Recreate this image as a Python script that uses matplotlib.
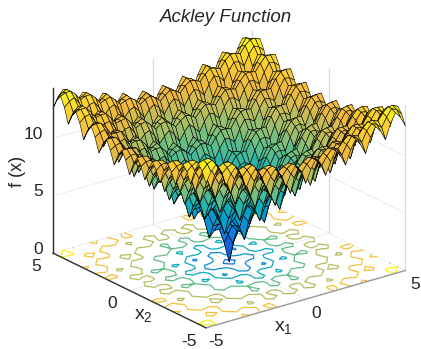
import numpy as np
import matplotlib
matplotlib.use('Agg')
import matplotlib.pyplot as plt
from matplotlib.colors import LinearSegmentedColormap, Normalize

plt.rcParams['font.family'] = ['Liberation Sans', 'DejaVu Sans']
plt.rcParams['mathtext.fontset'] = 'custom'
plt.rcParams['mathtext.rm'] = 'Liberation Sans'
plt.rcParams['mathtext.it'] = 'Liberation Sans'
plt.rcParams['mathtext.default'] = 'regular'

# heights estimated on a 0.25 grid, only one eighth of the square (it looks symmetric)
# rows go x = 0, 0.25, ... and each row starts on the diagonal
heights = [
    [0.0, 1.8, 3.1, 3.1, 2.6, 4.3, 5.5, 5.5, 4.9, 6.5, 7.7, 7.5, 6.9, 8.4, 9.5, 9.3, 8.6, 10.1, 11.1, 10.9, 10.1],
    [2.7, 3.6, 3.8, 3.8, 5.0, 6.0, 6.1, 6.0, 7.2, 8.1, 8.2, 8.0, 9.1, 9.9, 10.0, 9.7, 10.8, 11.5, 11.5, 11.2],
    [4.2, 4.5, 4.7, 5.6, 6.4, 6.7, 6.8, 7.7, 8.4, 8.6, 8.7, 9.6, 10.2, 10.4, 10.4, 11.2, 11.8, 11.9, 11.9],
    [4.5, 4.3, 5.4, 6.3, 6.4, 6.3, 7.4, 8.3, 8.4, 8.2, 9.2, 10.1, 10.1, 9.8, 10.9, 11.6, 11.6, 11.3],
    [3.6, 5.1, 6.2, 6.0, 5.4, 7.0, 8.0, 7.8, 7.2, 8.7, 9.8, 9.5, 8.8, 10.3, 11.3, 11.0, 10.3],
    [6.1, 6.9, 7.0, 6.7, 7.8, 8.6, 8.7, 8.4, 9.5, 10.3, 10.3, 10.0, 11.0, 11.8, 11.7, 11.4],
    [7.5, 7.7, 7.7, 8.5, 9.1, 9.3, 9.3, 10.1, 10.7, 10.8, 10.8, 11.5, 12.1, 12.2, 12.2],
    [7.6, 7.3, 8.4, 9.1, 9.1, 8.8, 9.9, 10.6, 10.6, 10.3, 11.3, 12.0, 12.0, 11.6],
    [6.6, 8.0, 9.0, 8.7, 8.0, 9.4, 10.4, 10.1, 9.4, 10.8, 11.8, 11.4, 10.7],
    [9.0, 9.7, 9.6, 9.3, 10.3, 11.0, 10.9, 10.6, 11.6, 12.3, 12.2, 11.9],
    [10.2, 10.3, 10.2, 10.9, 11.5, 11.5, 11.5, 12.2, 12.7, 12.8, 12.7],
    [10.2, 9.8, 10.8, 11.4, 11.4, 11.0, 12.0, 12.6, 12.5, 12.1],
    [9.0, 10.4, 11.3, 10.9, 10.1, 11.5, 12.4, 12.0, 11.2],
    [11.3, 11.9, 11.8, 11.4, 12.3, 13.0, 12.9, 12.5],
    [12.4, 12.4, 12.3, 12.9, 13.4, 13.4, 13.3],
    [12.3, 11.9, 12.8, 13.4, 13.2, 12.8],
    [11.0, 12.3, 13.2, 12.8, 11.9],
    [13.2, 13.8, 13.6, 13.2],
    [14.2, 14.2, 14.0],
    [14.0, 13.5],
    [12.6],
]
contour_levels = [2, 4, 6, 8, 10, 12, 14]
xticks = [-5, 0, 5]
yticks = [-5, 0, 5]
zticks = [0, 5, 10]
parula = ['#352a87', '#125cde', '#1180e0', '#0895d1', '#06a9c1', '#38b99e',
          '#7cbf7b', '#b9bd5d', '#f0b83e', '#fbd32f', '#f9fb15']

# unfold the triangle into the whole square
n = len(heights)
quad = np.zeros((n, n))
for i, row in enumerate(heights):
    for j, v in enumerate(row):
        quad[i, i + j] = v
        quad[i + j, i] = v
Z = np.vstack([quad[:0:-1], quad])
Z = np.hstack([Z[:, :0:-1], Z])
grid = np.linspace(-5, 5, Z.shape[0])
X, Y = np.meshgrid(grid, grid)

cmap = LinearSegmentedColormap.from_list('parula', parula)
ztop = 14.4
norm = Normalize(0, ztop)

W, H = 421, 349
size = 386
fig = plt.figure(figsize=(W / 100, H / 100), dpi=100)
ax = fig.add_axes([(224 - size / 2) / W, (164.5 - size / 2) / H, size / W, size / H],
                  projection='3d', computed_zorder=False)
ax.set_proj_type('ortho')
ax.view_init(elev=22, azim=-127.5)
ax.set_box_aspect((250, 250, 177))
ax.set_xlim(-5, 5, view_margin=0)
ax.set_ylim(-5, 5, view_margin=0)
ax.set_zlim(0, ztop, view_margin=0)
ax.set_axis_off()
ax.patch.set_alpha(0)

grid_c = '#ececec'
def gridline(xs, ys, zs, c=grid_c, lw=0.7, zo=1):
    ax.plot(xs, ys, zs, color=c, lw=lw, zorder=zo, clip_on=False)

# floor and wall grid
for t in xticks:
    gridline([t, t], [-5, 5], [0, 0])
    gridline([t, t], [5, 5], [0, ztop], c='#dcdcdc', lw=0.9)
for t in yticks:
    gridline([-5, 5], [t, t], [0, 0])
    gridline([5, 5], [t, t], [0, ztop], c='#dcdcdc', lw=0.9)
for t in zticks[1:]:
    gridline([-5, 5], [5, 5], [t, t])
    gridline([5, 5], [-5, 5], [t, t])

ax.contour(X, Y, Z, levels=contour_levels, zdir='z', offset=0, cmap=cmap, norm=norm,
           linewidths=0.9, zorder=2)
ax.plot_surface(X, Y, Z, rstride=1, cstride=1, cmap=cmap, norm=norm, shade=False,
                edgecolor='#000000', linewidth=0.4, antialiased=True, zorder=3)

# axis rulers
gridline([-5, 5], [-5, -5], [0, 0], c='#9a9a9a', lw=1.0, zo=4)
gridline([-5, -5], [-5, 5], [0, 0], c='#303030', lw=1.0, zo=4)
gridline([-5, -5], [5, 5], [0, ztop], c='#303030', lw=1.0, zo=4)

for t in xticks:
    ax.text(t, -5.65, -0.8, str(t), fontsize=12.5, ha='center', va='center', color='#262626')
for t in yticks:
    ax.text(-5.85, t, -0.75, str(t), fontsize=12.5, ha='center', va='center', color='#262626')
for t in zticks:
    ax.text(-5.5, 5, t + 0.6, str(t), fontsize=12.5, ha='right', va='center', color='#262626')

def label(px, py, s, **kw):
    fig.text(px / W, 1 - py / H, s, ha='center', va='center', color='#262626', **kw)

label(18, 171, 'f (x)', fontsize=13, rotation=90)
label(283, 327, r'x$_1$', fontsize=14)
label(143, 315, r'x$_2$', fontsize=14)
label(226, 18, 'Ackley Function', fontsize=13.5, style='italic')

fig.savefig('out.png', dpi=100)
